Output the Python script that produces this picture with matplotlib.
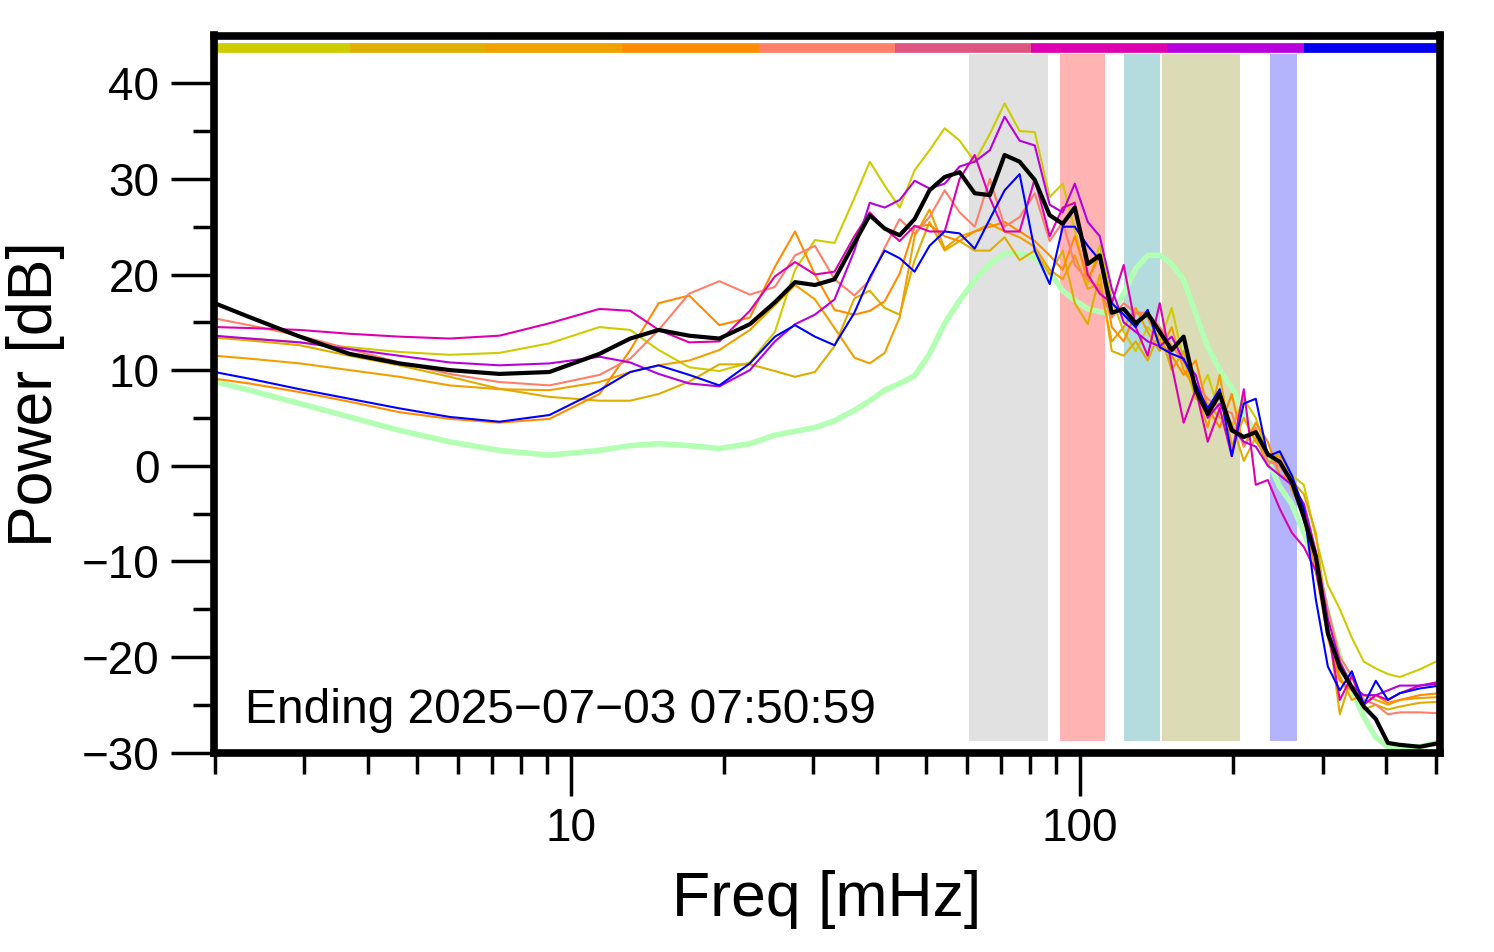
import matplotlib
matplotlib.use('Agg')
import matplotlib.pyplot as plt
from matplotlib.ticker import FixedLocator, NullFormatter, FuncFormatter

plt.rcParams['font.family'] = ['Liberation Sans', 'DejaVu Sans']

# ---------------- data ----------------
freq = [2.00, 2.34, 2.94, 3.68, 4.61, 5.79, 7.25, 9.09, 11.4, 13.1, 14.9, 17.1,
        19.6, 22.5, 25.2, 27.6, 30.2, 33.0, 36.1, 38.7, 41.4, 44.3, 47.4, 50.7,
        54.3, 58.1, 62.2, 66.6, 71.2, 76.2, 81.6, 87.3, 92.6, 97.8, 103.7, 109.5,
        115.6, 122.0, 128.8, 136.0, 143.6, 151.6, 160.0, 169.0, 178.4, 188.4,
        198.9, 210.0, 221.7, 234.1, 247.1, 260.9, 275.5, 290.9, 307.1, 324.2,
        342.3, 361.4, 381.5, 402.9, 425.3, 465.6, 509.6]

mean_db = [17.0, 15.55, 13.5, 11.7, 10.7, 10.0, 9.6, 9.8, 11.7, 13.3, 14.2, 13.6,
           13.3, 14.8, 17.1, 19.2, 18.9, 19.5, 23.3, 26.2, 24.8, 24.1, 25.8, 28.8,
           30.2, 30.7, 28.5, 28.3, 32.5, 31.8, 29.9, 26.2, 25.3, 27.0, 21.1,
           22.0, 16.0, 16.4, 14.9, 15.9, 14.0, 12.1, 13.5, 7.9, 5.4, 7.5, 3.7, 3.0,
           3.5, 1.2, 0.4, -1.7, -5.4, -9.5, -17.5, -21.1, -23.2, -25.2, -26.5,
           -29.0, -29.2, -29.4, -29.0]

reference_db = [8.8, 7.9, 6.5, 5.1, 3.7, 2.5, 1.6, 1.1, 1.6, 2.1, 2.3, 2.1, 1.8,
                2.3, 3.2, 3.6, 4.0, 4.7, 5.8, 6.8, 7.9, 8.6, 9.4, 11.7, 14.9, 17.3,
                19.4, 21.1, 22.2, 22.2, 21.8, 20.3, 18.3, 17.3, 16.4,
                16.1, 15.9, 18.0, 20.6, 22.0, 22.0, 21.1, 19.4, 15.9, 12.4, 10.0,
                8.2, 5.4, 3.4, 0.6, -2.2, -4.0, -7.0, -10.5, -15.5, -20.0, -23.5,
                -26.3, -28.4, -29.4, -29.6, -29.4, -28.9]

s_yellow = [13.4, 13.3, 12.9, 12.4, 11.9, 11.6, 11.8, 12.8, 14.5, 14.2, 12.1, 10.3,
            9.9, 10.8, 14.0, 20.5, 23.6, 23.3, 28.0, 31.8, 29.3, 27.0, 30.9, 33.0,
            35.3, 34.0, 31.8, 34.7, 37.9, 35.0, 34.9, 28.1, 29.5, 24.6, 19.0,
            23.0, 17.5, 14.0, 12.0, 14.5, 13.0, 16.5, 11.0, 7.0, 9.5, 5.5, 4.0,
            7.0, 5.0, 1.0, 0.5, -1.0, -2.0, -7.5, -12.5, -15.0, -18.0, -20.5,
            -21.2, -21.8, -22.1, -21.3, -20.3]

s_gold = [13.4, 13.1, 12.6, 11.5, 10.5, 9.3, 8.05, 7.2, 6.8, 6.8, 7.5, 8.8, 10.6,
          10.6, 9.9, 9.3, 9.8, 12.5, 17.5, 18.3, 16.5, 15.8, 21.5, 25.5, 22.5,
          23.5, 22.5, 22.5, 23.9, 21.5, 22.5, 20.0, 22.5, 17.0, 14.8,
          20.0, 12.0, 11.5, 13.0, 11.0, 14.0, 10.0, 12.0, 7.0, 6.5, 5.0, 4.5, 0.5,
          3.0, 0.0, 1.5, -1.5, -3.0, -7.0, -16.5, -26.0, -22.0, -25.5, -25.0,
          -25.5, -25.2, -24.8, -24.7]

s_orange = [11.5, 11.2, 10.7, 10.0, 9.3, 8.4, 8.0, 7.9, 8.75, 9.8, 10.5, 11.0,
            12.1, 14.2, 16.8, 18.9, 17.4, 14.4, 11.3, 10.7, 11.8, 15.5, 24.0, 26.8,
            22.7, 24.0, 24.5, 25.3, 24.5, 23.9, 22.9, 20.5, 19.5, 22.0, 18.5,
            19.0, 13.0, 14.5, 16.5, 14.0, 12.0, 14.5, 10.0, 8.0, 4.0, 9.5, 2.0,
            5.0, 2.5, 1.0, 1.0, -2.5, -5.0, -10.0, -17.0, -22.0, -24.5, -24.0,
            -24.5, -25.0, -24.5, -24.3, -24.2]

s_darkorange = [9.1, 8.6, 7.7, 6.7, 5.6, 4.9, 4.5, 4.9, 7.5, 12.1, 17.0, 17.8,
                14.7, 15.5, 20.8, 24.5, 20.0, 16.3, 15.8, 16.2, 17.2, 20.1, 25.0,
                25.2, 24.0, 23.5, 24.5, 25.0, 25.5, 24.5, 23.5, 22.0, 20.5, 24.0,
                19.5,
                22.0, 14.5, 13.0, 16.0, 15.5, 13.0, 11.5, 9.5, 11.0, 6.0, 4.0, 7.5,
                2.0, 4.5, 2.5, -1.0, -1.5, -5.5, -11.0, -18.0, -22.5, -23.5, -25.0,
                -24.0, -24.8, -24.5, -24.0, -23.8]

s_salmon = [15.4, 14.7, 13.6, 12.2, 10.8, 9.6, 8.75, 8.4, 9.5, 11.2, 14.2, 18.0,
            19.3, 17.9, 18.7, 22.0, 23.0, 19.5, 17.8, 19.4, 22.8, 25.8, 24.3, 26.0,
            28.8, 26.5, 25.0, 30.0, 25.0, 26.0, 28.5, 23.5, 25.5, 21.0, 19.5,
            18.5, 15.5, 17.0, 16.0, 16.0, 14.5, 12.5, 11.0, 8.5, 7.0, 6.0, 5.5,
            2.0, 4.0, 0.5, 0.0, -2.0, -4.0, -9.0, -15.0, -20.0, -22.0, -24.5,
            -25.0, -26.0, -25.8, -25.8, -25.9]

s_magenta = [14.5, 14.4, 14.2, 13.8, 13.5, 13.3, 13.6, 14.9, 16.4, 16.2, 14.2, 12.9,
             13.0, 16.2, 19.8, 21.3, 20.0, 20.3, 24.0, 26.5, 24.8, 23.5, 25.1, 24.5,
             24.5, 30.0, 32.5, 28.0, 24.5, 24.5, 30.0, 24.0, 27.0, 27.5, 20.0,
             18.0, 17.0, 21.0, 14.5, 11.5, 17.0, 10.5, 4.5, 8.0, 2.5, 6.0, 1.0,
             8.0, -2.0, -1.5, -4.5, -7.0, -8.5, -11.0, -17.0, -24.5, -22.0, -25.0,
             -24.0, -24.5, -23.8, -23.0, -22.6]

s_purple = [13.6, 13.3, 12.9, 12.2, 11.5, 10.8, 10.5, 10.7, 11.4, 10.8, 9.6, 8.6,
            8.3, 10.0, 13.0, 14.8, 15.8, 17.4, 22.5, 27.5, 27.0, 27.8, 29.8, 29.0,
            29.5, 31.3, 31.8, 33.0, 36.5, 34.0, 33.5, 27.3, 26.5, 29.5, 25.5,
            24.0, 18.5, 15.0, 14.0, 13.0, 12.5, 13.5, 11.0, 9.5, 5.0, 6.5, 4.0,
            2.5, 2.0, 0.0, -1.0, -2.0, -4.0, -9.0, -16.0, -20.5, -23.0, -24.0,
            -24.0, -23.5, -23.0, -23.0, -22.8]

s_blue = [9.8, 9.1, 8.0, 7.0, 6.0, 5.1, 4.6, 5.3, 7.9, 9.8, 10.5, 9.5, 8.4, 10.7,
          13.5, 14.7, 13.5, 12.6, 16.0, 19.7, 22.5, 21.7, 20.3, 23.0, 24.5, 24.3,
          22.7, 25.8, 28.8, 30.5, 22.5, 19.0, 25.0, 25.0, 23.0,
          21.5, 17.0, 15.8, 14.5, 16.3, 12.4, 11.7, 11.2, 8.5, 6.0, 8.0, 1.0, 6.5,
          7.0, 1.0, 1.5, -1.0, -4.5, -14.0, -21.0, -23.5, -21.5, -25.0, -22.5,
          -24.5, -23.8, -23.3, -23.0]

series_values = [s_yellow, s_gold, s_orange, s_darkorange, s_salmon,
                 s_magenta, s_purple, s_blue]
series_colors = ['#cccc00', '#ddad00', '#f0a000', '#ff8c00', '#ff7f6a',
                 '#dd00b0', '#b800dd', '#0000ff']

bar_colors = ['#cccc00', '#ddb000', '#f0a300', '#ff8c00', '#ff7f6a',
              '#dd5580', '#dd00b0', '#b800dd', '#0000ee']

band_lo = [60.7, 91.4, 122.0, 144.9, 236.2]
band_hi = [86.6, 112.3, 143.6, 206.4, 267.7]
band_colors = ['#e1e1e1', '#ffb3b3', '#b4dcdf', '#dbdbb5', '#b4b4fc']

title_text = 'Ending 2025\u221207\u221203 07:50:59'

# ---------------- figure ----------------
W, H = 1494, 952
fig = plt.figure(figsize=(W / 100, H / 100), dpi=100)
ax = fig.add_axes([213.5 / W, (H - 752.5) / H, (1440 - 213.5) / W, (752.5 - 35.5) / H])
ax.set_xscale('log')
ax.set_xlim(1.99, 510)
ymin, ymax = -30, 45
ax.set_ylim(ymin, ymax)

band_bottom, band_top = -28.8, 43.1
for lo, hi, c in zip(band_lo, band_hi, band_colors):
    ax.axvspan(lo, hi, ymin=(band_bottom - ymin) / (ymax - ymin),
               ymax=(band_top - ymin) / (ymax - ymin),
               color=c, lw=0, zorder=1)

for i, c in enumerate(bar_colors):
    ax.axhline(43.7, xmin=i / len(bar_colors), xmax=(i + 1) / len(bar_colors),
               color=c, lw=7, solid_capstyle='butt', zorder=3)

ax.plot(freq, reference_db, color='#b3ffb3', lw=4, zorder=4,
        solid_joinstyle='round')
for vals, c in zip(series_values, series_colors):
    ax.plot(freq, vals, color=c, lw=1.5, zorder=5, solid_joinstyle='round')
ax.plot(freq, mean_db, color='black', lw=3, zorder=6, solid_joinstyle='round')

# ticks
ax.xaxis.set_major_locator(FixedLocator([10, 100]))
minor_x = [2, 3, 4, 5, 6, 7, 8, 9, 20, 30, 40, 50, 60, 70, 80, 90,
           200, 300, 400, 500]
ax.xaxis.set_minor_locator(FixedLocator(minor_x))
ax.xaxis.set_major_formatter(FuncFormatter(lambda v, p: f'{v:g}'))
ax.xaxis.set_minor_formatter(NullFormatter())
ax.set_yticks(list(range(-30, 41, 10)))
ax.set_yticks(list(range(-25, 36, 10)), minor=True)

ax.tick_params(which='major', direction='out', length=31, width=2.5,
               labelsize=33, pad=8)
ax.tick_params(which='minor', direction='out', length=15, width=2.5)
ax.tick_params(top=False, right=False)

for sp in ax.spines.values():
    sp.set_linewidth(5.5)
    sp.set_zorder(10)

ax.set_ylabel('Power [dB]', fontsize=45, labelpad=12)
ax.set_xlabel('Freq [mHz]', fontsize=45, labelpad=14)

ax.text(0.026, 0.058, title_text, transform=ax.transAxes, fontsize=34.5,
        va='center', ha='left', zorder=7)

fig.savefig('out.png', dpi=100)
